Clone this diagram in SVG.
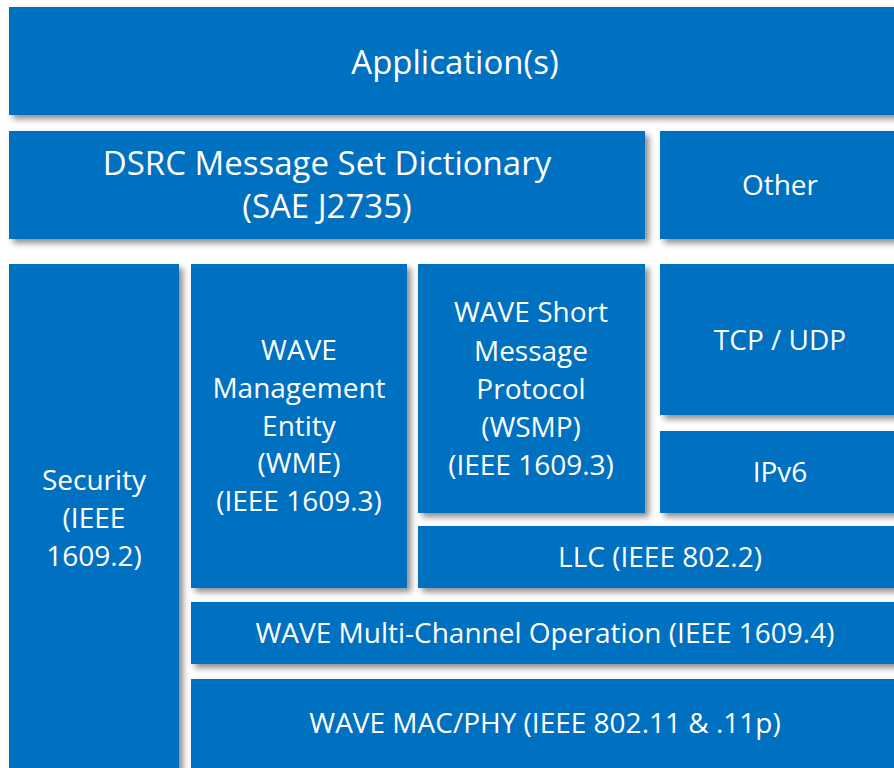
<svg xmlns="http://www.w3.org/2000/svg" width="894" height="768" viewBox="0 0 894 768">
<defs>
<filter id="sh" x="-10%" y="-10%" width="130%" height="140%">
<feDropShadow dx="4" dy="4" stdDeviation="3" flood-color="#000" flood-opacity="0.45"/>
</filter>
</defs>
<style>
.b{fill:#0070C0;filter:url(#sh)}
text{fill:#fff;font-family:"Open Sans","Noto Sans",sans-serif;text-anchor:middle;font-size:28px}
.big{font-size:33px}
</style>
<rect width="894" height="768" fill="#fff"/>
<g id="application"><rect class="b" x="9" y="7" width="890" height="108"/><text class="big" x="455" y="74">Application(s)</text></g>
<g id="dsrc"><rect class="b" x="9" y="131" width="636" height="108"/><text class="big" x="327" y="175">DSRC Message Set Dictionary</text><text class="big" x="327" y="218">(SAE J2735)</text></g>
<g id="other"><rect class="b" x="660" y="131" width="240" height="108"/><text x="780" y="195">Other</text></g>
<g id="security"><rect class="b" x="9" y="264" width="170" height="510"/><text x="94" y="490">Security</text><text x="94" y="528">(IEEE</text><text x="94" y="566">1609.2)</text></g>
<g id="wme"><rect class="b" x="191" y="264" width="216" height="324"/><text x="299" y="360">WAVE</text><text x="299" y="398">Management</text><text x="299" y="436">Entity</text><text x="299" y="473">(WME)</text><text x="299" y="511">(IEEE 1609.3)</text></g>
<g id="wsmp"><rect class="b" x="418" y="264" width="227" height="249"/><text x="531" y="322">WAVE Short</text><text x="531" y="361">Message</text><text x="531" y="399">Protocol</text><text x="531" y="437">(WSMP)</text><text x="531" y="475">(IEEE 1609.3)</text></g>
<g id="tcpudp"><rect class="b" x="660" y="264" width="240" height="151"/><text x="780" y="350">TCP / UDP</text></g>
<g id="ipv6"><rect class="b" x="660" y="431" width="240" height="82"/><text x="780" y="482">IPv6</text></g>
<g id="llc"><rect class="b" x="418" y="526" width="482" height="62"/><text x="660" y="567">LLC (IEEE 802.2)</text></g>
<g id="multichannel"><rect class="b" x="191" y="602" width="709" height="62"/><text x="545" y="643">WAVE Multi-Channel Operation (IEEE 1609.4)</text></g>
<g id="macphy"><rect class="b" x="191" y="679" width="709" height="95"/><text x="545" y="733">WAVE MAC/PHY (IEEE 802.11 &amp; .11p)</text></g>
<g id="connectors"/>
</svg>
